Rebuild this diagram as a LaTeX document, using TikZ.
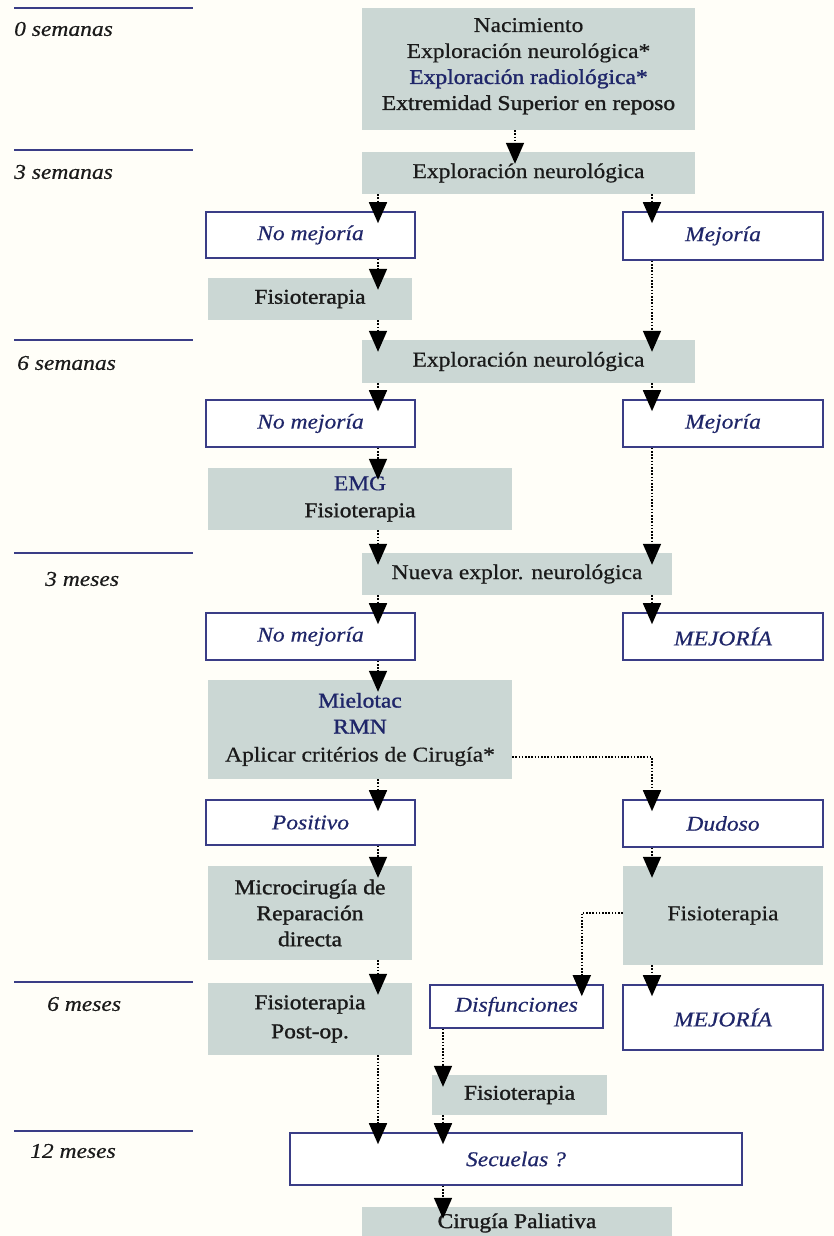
\documentclass[tikz,border=0pt]{standalone}
\usepackage{fontspec}
\setmainfont{Liberation Serif}[FakeStretch=1.12,FakeBold=0.5]
\newfontfamily\semibf{Liberation Serif}[FakeStretch=1.12,FakeBold=1.3]
\usetikzlibrary{arrows.meta}
\definecolor{boxgray}{HTML}{CBD7D4}
\definecolor{navy}{HTML}{3A3D86}
\definecolor{tblue}{HTML}{1F2669}
\definecolor{bg}{HTML}{FFFEF8}
\definecolor{ink}{HTML}{1A1A1A}
\begin{document}
\begin{tikzpicture}[x=1pt,y=-1pt,
  every node/.style={font=\fontsize{21}{26}\selectfont, inner sep=0pt, align=center},
  gbox/.style={fill=boxgray, draw=none, text=ink},
  wbox/.style={fill=white, draw=navy, line width=1.6pt, text=tblue, font=\fontsize{21}{26}\selectfont\itshape},
  arr/.style={draw=black, line width=1.7pt, dash pattern=on 1.6pt off 1.6pt, -{Triangle[width=18pt,length=21pt]}, shorten >=-12pt},
  tl/.style={draw=navy, line width=1.8pt},
  lab/.style={anchor=west, font=\fontsize{21}{24}\selectfont\itshape, text=ink}
]
\useasboundingbox[fill=bg] (0,0) rectangle (834,1236);

% column coordinates
\coordinate (xL) at (378,0);
\coordinate (xR) at (652,0);
\coordinate (xM) at (515,0);
\coordinate (xD) at (443,0);

% timeline
\draw[tl] (14,8) -- (193,8);
\draw[tl] (14,150) -- (193,150);
\draw[tl] (14,340) -- (193,340);
\draw[tl] (14,553) -- (193,553);
\draw[tl] (14,982) -- (193,982);
\draw[tl] (14,1131) -- (193,1131);
\node[lab] (t0) at (14,29) {0 semanas};
\node[lab] (t1) at (14,172) {3 semanas};
\node[lab] (t2) at (17,363) {6 semanas};
\node[lab] (t3) at (45,579) {3 meses};
\node[lab] (t4) at (47,1004) {6 meses};
\node[lab] (t5) at (30,1151) {12 meses};

% boxes
\node[gbox, minimum width=333pt, minimum height=122pt] (B0) at (528.5,69)
  {Nacimiento\\Exploración neurológica*\\{\color{tblue}\semibf Exploración radiológica*}\\{\semibf Extremidad Superior en reposo}\\[-16pt]};
\node[gbox, minimum width=333pt, minimum height=42pt] (E3) at (528.5,173) {Exploración neurológica};
\node[wbox, minimum width=209pt, minimum height=46pt] (NM1) at (310.5,235) {No mejoría};
\node[wbox, minimum width=200pt, minimum height=48pt] (M1) at (723,236) {Mejoría};
\node[gbox, minimum width=204pt, minimum height=42pt] (F1) at (310,299) {\semibf Fisioterapia};
\node[gbox, minimum width=333pt, minimum height=43pt] (E6) at (528.5,361.5) {Exploración neurológica};
\node[wbox, minimum width=209pt, minimum height=47pt] (NM2) at (310.5,423.5) {No mejoría};
\node[wbox, minimum width=200pt, minimum height=47pt] (M2) at (723,423.5) {Mejoría};
\node[gbox, minimum width=304pt, minimum height=62pt] (EMG) at (360,499)
  {{\color{tblue}EMG}\\[1pt]{\semibf Fisioterapia}};
\node[gbox, minimum width=310pt, minimum height=42pt] (NE) at (517,574) {Nueva explor. neurológica};
\node[wbox, minimum width=209pt, minimum height=47pt] (NM3) at (310.5,636.5) {No mejoría};
\node[wbox, minimum width=200pt, minimum height=47pt] (MJ1) at (723,636.5) {MEJORÍA};
\node[gbox, minimum width=304pt, minimum height=99pt] (MIEL) at (360,729.5)
  {{\color{tblue}\semibf Mielotac}\\{\color{tblue}\semibf RMN}\\[2pt]Aplicar critérios de Cirugía*};
\node[wbox, minimum width=209pt, minimum height=45pt] (POS) at (310.5,822.5) {Positivo};
\node[wbox, minimum width=200pt, minimum height=47pt] (DUD) at (723,823.5) {Dudoso};
\node[gbox, minimum width=204pt, minimum height=94pt] (MICRO) at (310,913)
  {\semibf Microcirugía de\\\semibf Reparación\\\semibf directa};
\node[gbox, minimum width=200pt, minimum height=99pt] (FD) at (723,915.5) {Fisioterapia};
\node[gbox, minimum width=204pt, minimum height=72pt] (FPO) at (310,1019)
  {\semibf Fisioterapia\\[3pt]\semibf Post-op.};
\node[wbox, minimum width=173pt, minimum height=43pt] (DISF) at (516.5,1006.5) {Disfunciones};
\node[wbox, minimum width=200pt, minimum height=65pt] (MJ2) at (723,1017.5) {MEJORÍA};
\node[gbox, minimum width=175pt, minimum height=40pt] (F3) at (519.5,1095) {\semibf Fisioterapia};
\node[wbox, minimum width=452pt, minimum height=52pt] (SEC) at (516,1159) {Secuelas ?};
\node[gbox, minimum width=310pt, minimum height=32pt] (CP) at (517,1223) {\semibf Cirugía Paliativa};

% connectors
\draw[arr] (B0.south -| xM) -- (E3.north -| xM);
\draw[arr] (E3.south -| xL) -- (NM1.north -| xL);
\draw[arr] (E3.south -| xR) -- (M1.north -| xR);
\draw[arr] (NM1.south -| xL) -- (F1.north -| xL);
\draw[arr] (F1.south -| xL) -- (E6.north -| xL);
\draw[arr] (M1.south -| xR) -- (E6.north -| xR);
\draw[arr] (E6.south -| xL) -- (NM2.north -| xL);
\draw[arr] (E6.south -| xR) -- (M2.north -| xR);
\draw[arr] (NM2.south -| xL) -- (EMG.north -| xL);
\draw[arr] (EMG.south -| xL) -- (NE.north -| xL);
\draw[arr] (M2.south -| xR) -- (NE.north -| xR);
\draw[arr] (NE.south -| xL) -- (NM3.north -| xL);
\draw[arr] (NE.south -| xR) -- (MJ1.north -| xR);
\draw[arr] (NM3.south -| xL) -- (MIEL.north -| xL);
\draw[arr] (MIEL.south -| xL) -- (POS.north -| xL);
\draw[arr] ([yshift=-27.5pt]MIEL.east) -| (DUD.north -| xR);
\draw[arr] (POS.south -| xL) -- (MICRO.north -| xL);
\draw[arr] (DUD.south -| xR) -- (FD.north -| xR);
\draw[arr] (MICRO.south -| xL) -- (FPO.north -| xL);
\draw[arr] ([yshift=2.5pt]FD.west) -| ([xshift=-22pt]DISF.north east);
\draw[arr] (FD.south -| xR) -- (MJ2.north -| xR);
\draw[arr] (DISF.south -| xD) -- (F3.north -| xD);
\draw[arr] (FPO.south -| xL) -- (SEC.north -| xL);
\draw[arr] (F3.south -| xD) -- (SEC.north -| xD);
\draw[arr] (SEC.south -| xD) -- (CP.north -| xD);
\end{tikzpicture}
\end{document}
